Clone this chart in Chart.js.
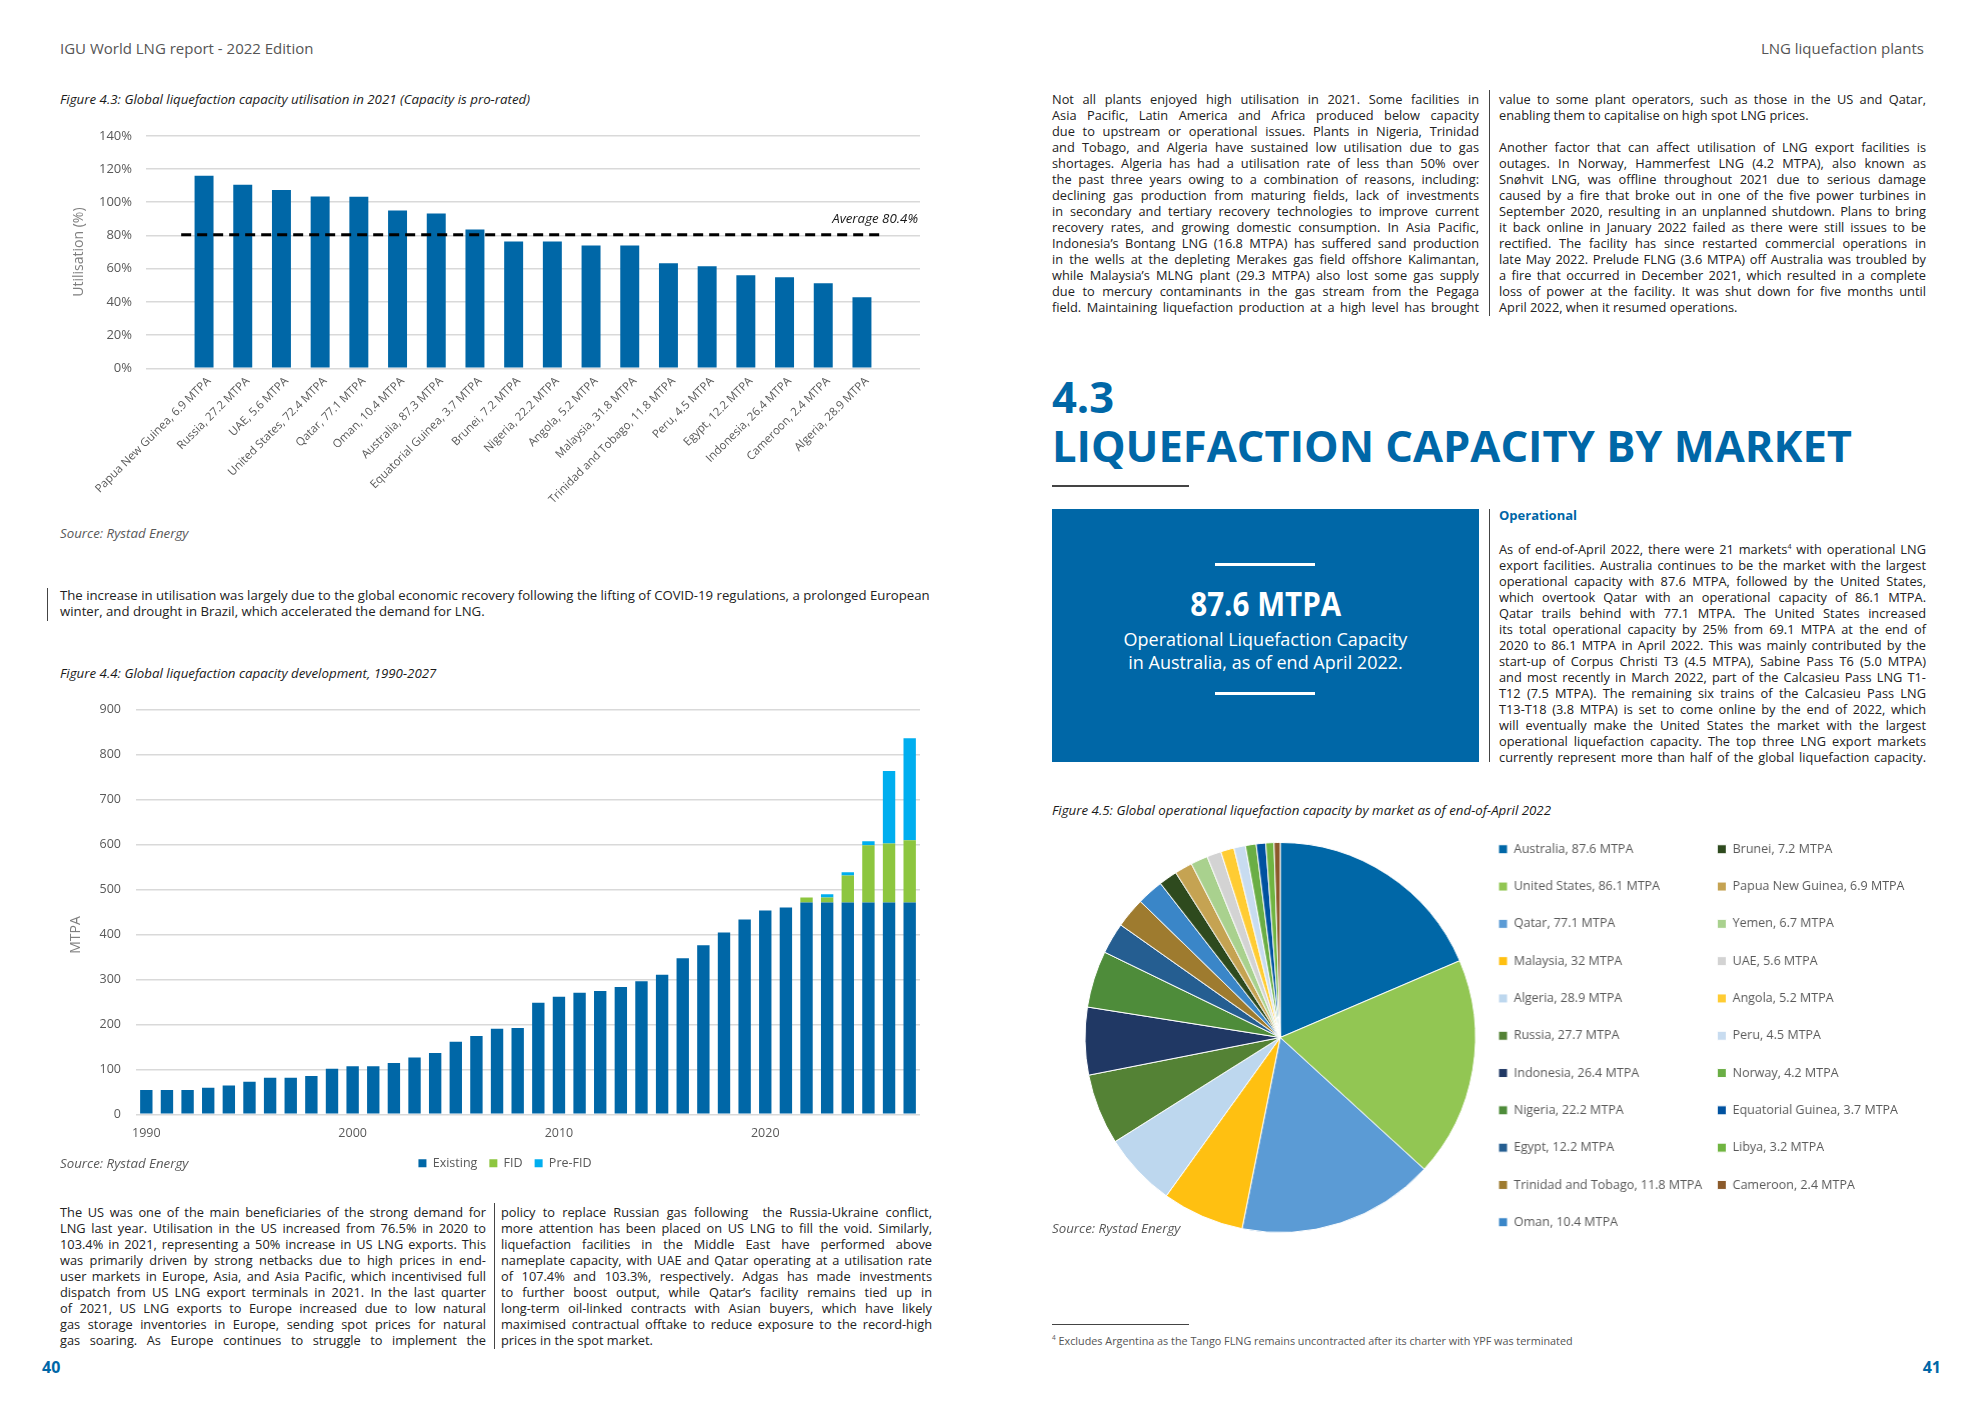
<!DOCTYPE html>
<html><head><meta charset="utf-8">
<script src="https://cdn.jsdelivr.net/npm/chart.js@4.4.1/dist/chart.umd.min.js"></script>
<style>
html,body{margin:0;padding:0;background:#fff;}
body{width:1984px;height:1403px;position:relative;overflow:hidden;font-family:'Open Sans',sans-serif;color:#222;}
.abs{position:absolute;}
.hdr{font-size:15px;color:#555;line-height:20px;white-space:nowrap;}
.cap{font-size:13.3px;font-style:italic;color:#1a1a1a;line-height:18px;white-space:nowrap;}
.src{font-size:13.3px;font-style:italic;color:#595959;line-height:18px;white-space:nowrap;}
.col{position:absolute;font-size:12.8px;line-height:16px;color:#222;}
.col div{text-align:justify;text-align-last:justify;white-space:nowrap;height:16px;}
.col div.l{text-align-last:left;}
.vline{position:absolute;width:1px;background:#444;}
.hline{position:absolute;height:1px;background:#444;}
.pg{position:absolute;font-size:16px;font-weight:700;color:#0067A7;line-height:20px;}
</style></head>
<body>
<div class="abs hdr" style="left:60px;top:38px;">IGU World LNG report - 2022 Edition</div>
<div class="abs hdr" style="right:60px;top:38px;">LNG liquefaction plants</div>

<div class="abs cap" style="left:60px;top:90px;">Figure 4.3: Global liquefaction capacity utilisation in 2021 (Capacity is pro-rated)</div>
<div class="abs" style="left:60px;top:114px;width:870px;height:410px;"><canvas id="c1"></canvas></div>
<div class="abs cap" id="avgLabel" style="right:1066px;top:209px;"></div>
<div class="abs src" style="left:60px;top:524px;">Source: Rystad Energy</div>

<div class="vline" style="left:47px;top:588px;height:33px;"></div>
<div class="col" style="left:60px;top:587px;width:880px;font-size:13.2px;">
<div class="l">The increase in utilisation was largely due to the global economic recovery following the lifting of COVID-19 regulations, a prolonged European</div>
<div class="l">winter, and drought in Brazil, which accelerated the demand for LNG.</div>
</div>

<div class="abs cap" style="left:60px;top:664px;">Figure 4.4: Global liquefaction capacity development, 1990-2027</div>
<div class="abs" style="left:60px;top:686.5px;width:890px;height:492.5px;"><canvas id="c2"></canvas></div>
<div class="abs" style="left:55px;top:925px;width:40px;height:20px;line-height:20px;text-align:center;font-size:14px;color:#7f7f7f;transform:rotate(-90deg);">MTPA</div>
<div class="abs src" style="left:60px;top:1154px;">Source: Rystad Energy</div>

<div class="col" style="left:60px;top:1204px;width:426px;">
<div>The US was one of the main beneficiaries of the strong demand for</div>
<div>LNG last year. Utilisation in the US increased from 76.5% in 2020 to</div>
<div>103.4% in 2021, representing a 50% increase in US LNG exports. This</div>
<div>was primarily driven by strong netbacks due to high prices in end-</div>
<div>user markets in Europe, Asia, and Asia Pacific, which incentivised full</div>
<div>dispatch from US LNG export terminals in 2021. In the last quarter</div>
<div>of 2021, US LNG exports to Europe increased due to low natural</div>
<div>gas storage inventories in Europe, sending spot prices for natural</div>
<div>gas soaring. As Europe continues to struggle to implement the</div>
</div>
<div class="vline" style="left:494px;top:1203px;height:146px;"></div>
<div class="col" style="left:501px;top:1204px;width:431px;">
<div>policy to replace Russian gas following&nbsp; the Russia-Ukraine conflict,</div>
<div>more attention has been placed on US LNG to fill the void. Similarly,</div>
<div>liquefaction facilities in the Middle East have performed above</div>
<div>nameplate capacity, with UAE and Qatar operating at a utilisation rate</div>
<div>of 107.4% and 103.3%, respectively. Adgas has made investments</div>
<div>to further boost output, while Qatar’s facility remains tied up in</div>
<div>long-term oil-linked contracts with Asian buyers, which have likely</div>
<div>maximised contractual offtake to reduce exposure to the record-high</div>
<div class="l">prices in the spot market.</div>
</div>
<div class="pg" style="left:42px;top:1357px;">40</div>

<!-- right page -->
<div class="col" style="left:1052px;top:90.5px;width:427px;">
<div>Not all plants enjoyed high utilisation in 2021. Some facilities in</div>
<div>Asia Pacific, Latin America and Africa produced below capacity</div>
<div>due to upstream or operational issues. Plants in Nigeria, Trinidad</div>
<div>and Tobago, and Algeria have sustained low utilisation due to gas</div>
<div>shortages. Algeria has had a utilisation rate of less than 50% over</div>
<div>the past three years owing to a combination of reasons, including:</div>
<div>declining gas production from maturing fields, lack of investments</div>
<div>in secondary and tertiary recovery technologies to improve current</div>
<div>recovery rates, and growing domestic consumption. In Asia Pacific,</div>
<div>Indonesia’s Bontang LNG (16.8 MTPA) has suffered sand production</div>
<div>in the wells at the depleting Merakes gas field offshore Kalimantan,</div>
<div>while Malaysia’s MLNG plant (29.3 MTPA) also lost some gas supply</div>
<div>due to mercury contaminants in the gas stream from the Pegaga</div>
<div>field. Maintaining liquefaction production at a high level has brought</div>
</div>
<div class="vline" style="left:1489px;top:90px;height:226px;"></div>
<div class="col" style="left:1499px;top:90.5px;width:427px;">
<div>value to some plant operators, such as those in the US and Qatar,</div>
<div class="l">enabling them to capitalise on high spot LNG prices.</div>
<div class="l"></div>
<div>Another factor that can affect utilisation of LNG export facilities is</div>
<div>outages. In Norway, Hammerfest LNG (4.2 MTPA), also known as</div>
<div>Snøhvit LNG, was offline throughout 2021 due to serious damage</div>
<div>caused by a fire that broke out in one of the five power turbines in</div>
<div>September 2020, resulting in an unplanned shutdown. Plans to bring</div>
<div>it back online in January 2022 failed as there were still issues to be</div>
<div>rectified. The facility has since restarted commercial operations in</div>
<div>late May 2022. Prelude FLNG (3.6 MTPA) off Australia was troubled by</div>
<div>a fire that occurred in December 2021, which resulted in a complete</div>
<div>loss of power at the facility. It was shut down for five months until</div>
<div class="l">April 2022, when it resumed operations.</div>
</div>

<div class="abs" style="left:1052px;top:372px;font-size:43.5px;line-height:50px;font-weight:700;color:#0067A7;white-space:nowrap;">4.3</div>
<div class="abs" style="left:1052px;top:421px;font-size:43.5px;line-height:50px;font-weight:700;color:#0067A7;white-space:nowrap;">LIQUEFACTION CAPACITY BY MARKET</div>
<div class="hline" style="left:1052px;top:485px;width:137px;height:1.5px;"></div>

<div class="abs" style="left:1052px;top:509px;width:427px;height:253px;background:#0067A7;"></div>
<div class="abs" style="left:1215px;top:563px;width:100px;height:3px;background:#fff;"></div>
<div class="abs" style="left:1052px;top:581px;width:427px;text-align:center;"><span style="display:inline-block;color:#fff;font-weight:700;font-size:34px;line-height:44px;transform:scaleX(0.87);white-space:nowrap;">87.6 MTPA</span></div>
<div class="abs" style="left:1052px;top:628px;width:427px;text-align:center;color:#fff;font-size:18px;line-height:23px;white-space:nowrap;">Operational Liquefaction Capacity<br>in Australia, as of end April 2022.</div>
<div class="abs" style="left:1215px;top:692px;width:100px;height:3px;background:#fff;"></div>
<div class="vline" style="left:1489px;top:509px;height:253px;"></div>
<div class="abs" style="left:1499px;top:507px;font-size:13px;line-height:16px;font-weight:700;color:#0067A7;">Operational</div>
<div class="col" style="left:1499px;top:541px;width:427px;">
<div>As of end-of-April 2022, there were 21 markets<sup style="font-size:7px;line-height:0;">4</sup> with operational LNG</div>
<div>export facilities. Australia continues to be the market with the largest</div>
<div>operational capacity with 87.6 MTPA, followed by the United States,</div>
<div>which overtook Qatar with an operational capacity of 86.1 MTPA.</div>
<div>Qatar trails behind with 77.1 MTPA. The United States increased</div>
<div>its total operational capacity by 25% from 69.1 MTPA at the end of</div>
<div>2020 to 86.1 MTPA in April 2022. This was mainly contributed by the</div>
<div>start-up of Corpus Christi T3 (4.5 MTPA), Sabine Pass T6 (5.0 MTPA)</div>
<div>and most recently in March 2022, part of the Calcasieu Pass LNG T1-</div>
<div>T12 (7.5 MTPA). The remaining six trains of the Calcasieu Pass LNG</div>
<div>T13-T18 (3.8 MTPA) is set to come online by the end of 2022, which</div>
<div>will eventually make the United States the market with the largest</div>
<div>operational liquefaction capacity. The top three LNG export markets</div>
<div>currently represent more than half of the global liquefaction capacity.</div>
</div>

<div class="abs cap" style="left:1052px;top:801px;">Figure 4.5: Global operational liquefaction capacity by market as of end-of-April 2022</div>
<div class="abs" id="pieBox" style="left:1077px;top:817.5px;width:830px;height:439px;"><canvas id="c3"></canvas></div>
<div class="abs src" style="left:1052px;top:1219px;">Source: Rystad Energy</div>

<div class="hline" style="left:1052px;top:1324px;width:137px;"></div>
<div class="abs" style="left:1052px;top:1334px;font-size:10.8px;line-height:14px;color:#555;white-space:nowrap;"><sup style="font-size:6.5px;line-height:0;">4</sup> Excludes Argentina as the Tango FLNG remains uncontracted after its charter with YPF was terminated</div>
<div class="pg" style="right:43px;top:1357px;">41</div>

<script>
// ---------- Figure 4.3 data ----------
const utilCategories = ['Papua New Guinea, 6.9 MTPA','Russia, 27.2 MTPA','UAE, 5.6 MTPA','United States, 72.4 MTPA','Qatar, 77.1 MTPA','Oman, 10.4 MTPA','Australia, 87.3 MTPA','Equatorial Guinea, 3.7 MTPA','Brunei, 7.2 MTPA','Nigeria, 22.2 MTPA','Angola, 5.2 MTPA','Malaysia, 31.8 MTPA','Trinidad and Tobago, 11.8 MTPA','Peru, 4.5 MTPA','Egypt, 12.2 MTPA','Indonesia, 26.4 MTPA','Cameroon, 2.4 MTPA','Algeria, 28.9 MTPA'];
const utilValues = [116, 110.6, 107.4, 103.4, 103.3, 95, 93.2, 83.6, 76.4, 76.4, 74, 74, 63.2, 61.4, 56, 54.8, 51.2, 42.8];
const utilAverage = 80.4;

// ---------- Figure 4.4 data ----------
const years = [1990,1991,1992,1993,1994,1995,1996,1997,1998,1999,2000,2001,2002,2003,2004,2005,2006,2007,2008,2009,2010,2011,2012,2013,2014,2015,2016,2017,2018,2019,2020,2021,2022,2023,2024,2025,2026,2027];
const existing = [54,54,54,59,64,72,81,81,85,101,107,107,114,126,136,161,174,190,192,248,261,270,274,283,296,310,347,376,404,433,453,460,471,471,471,471,471,471];
const fid = [0,0,0,0,0,0,0,0,0,0,0,0,0,0,0,0,0,0,0,0,0,0,0,0,0,0,0,0,0,0,0,0,11,11,60,127,131,138];
const preFid = [0,0,0,0,0,0,0,0,0,0,0,0,0,0,0,0,0,0,0,0,0,0,0,0,0,0,0,0,0,0,0,0,0,7,7,9,161,227];

// ---------- Figure 4.5 data ----------
const markets = ['Australia','United States','Qatar','Malaysia','Algeria','Russia','Indonesia','Nigeria','Egypt','Trinidad and Tobago','Oman','Brunei','Papua New Guinea','Yemen','UAE','Angola','Peru','Norway','Equatorial Guinea','Libya','Cameroon'];
const capacity = [87.6,86.1,77.1,32,28.9,27.7,26.4,22.2,12.2,11.8,10.4,7.2,6.9,6.7,5.6,5.2,4.5,4.2,3.7,3.2,2.4];
const pieColors = ['#0067A7','#92C653','#5B9BD5','#FFC011','#BDD7EE','#548235','#203864','#4E8C3A','#255E91','#9E7B2F','#3A86C8','#2E4A1E','#C5A352','#A9D18E','#D3D3D3','#FFCC33','#C8DCF0','#6AAE45','#0052A0','#70B541','#8B5A2B'];

Chart.defaults.font.family = "'Open Sans', sans-serif";
Chart.defaults.color = '#595959';
Chart.defaults.animation = false;

document.getElementById('avgLabel').textContent = 'Average ' + utilAverage + '%';

new Chart(document.getElementById('c1'), {
  type: 'bar',
  data: {
    labels: [''].concat(utilCategories, ['']),
    datasets: [
      { type: 'line', data: [{x: 0, y: utilAverage}, {x: 1, y: utilAverage}], xAxisID: 'x2',
        borderColor: '#000', borderWidth: 3, borderDash: [10, 6], pointRadius: 0, order: 0 },
      { type: 'bar', data: [null].concat(utilValues, [null]), backgroundColor: '#0067A7',
        borderWidth: 0, grouped: false, categoryPercentage: 1, barPercentage: 0.49, order: 1 }
    ]
  },
  options: {
    responsive: true, maintainAspectRatio: false, animation: false,
    layout: { padding: { top: 0, right: 10, left: 0, bottom: 0 } },
    plugins: { legend: { display: false }, tooltip: { enabled: false } },
    scales: {
      x: { type: 'category', grid: { display: false, drawTicks: false }, border: { display: false },
        ticks: { autoSkip: false, minRotation: 45, maxRotation: 45, padding: 6, labelOffset: 5, color: '#595959', font: { size: 11.5 } },
        afterFit(s) { s.height = 155.7; } },
      x2: { type: 'linear', display: false, min: 0, max: 1 },
      y: { min: 0, max: 140,
        ticks: { stepSize: 20, callback: v => v + '%', padding: 14, color: '#595959', font: { size: 13 } },
        grid: { color: '#d9d9d9', lineWidth: 1.5, drawTicks: false }, border: { display: false },
        title: { display: true, text: 'Utilisation (%)', color: '#7f7f7f', font: { size: 14 }, padding: { top: 10.6, bottom: 0 } },
        afterFit(s) { s.width = 86; } }
    }
  }
});

new Chart(document.getElementById('c2'), {
  type: 'bar',
  data: {
    labels: years,
    datasets: [
      { label: 'Existing', data: existing, backgroundColor: '#0067A7' },
      { label: 'FID', data: fid, backgroundColor: '#8DC63F' },
      { label: 'Pre-FID', data: preFid, backgroundColor: '#00AEEF' }
    ]
  },
  options: {
    responsive: true, maintainAspectRatio: false, animation: false,
    layout: { padding: 0 },
    datasets: { bar: { categoryPercentage: 1, barPercentage: 0.6, borderWidth: 0 } },
    plugins: {
      legend: { position: 'bottom', labels: { boxWidth: 8, boxHeight: 8, padding: 12, color: '#595959', font: { size: 12.5 } } },
      tooltip: { enabled: false }
    },
    scales: {
      x: { stacked: true, grid: { display: false, drawTicks: false }, border: { display: false },
        ticks: { autoSkip: false, maxRotation: 0, minRotation: 0, padding: 12, color: '#595959', font: { size: 12.5 },
          callback: (v, i) => (years[i] % 10 === 0 ? String(years[i]) : '') },
        afterFit(s) { s.height = 30.75; } },
      y: { stacked: true, min: 0, max: 900,
        ticks: { stepSize: 100, padding: 15, color: '#595959', font: { size: 12.5 } },
        grid: { color: '#d9d9d9', lineWidth: 1.5, drawTicks: false }, border: { display: false },
        afterFit(s) { s.width = 76; } },
      yR: { type: 'linear', position: 'right', display: true, grid: { display: false, drawTicks: false },
        ticks: { display: false }, border: { display: false }, afterFit(s) { s.width = 30; } }
    }
  }
});

const pieChart = new Chart(document.getElementById('c3'), {
  type: 'pie',
  data: {
    labels: markets.map((m, i) => [m + ', ' + capacity[i] + ' MTPA']),
    datasets: [{ data: capacity, backgroundColor: pieColors, borderColor: '#fff', borderWidth: 1, radius: 195 }]
  },
  options: {
    responsive: true, maintainAspectRatio: false, animation: false,
    layout: { padding: 0 },
    plugins: {
      legend: { position: 'right', align: 'start', maxWidth: 700,
        title: { display: true, text: '', font: { size: 1, lineHeight: 1 }, padding: { top: 9, bottom: 0 } },
        labels: { boxWidth: 9, boxHeight: 9, padding: 15, color: '#595959', font: { size: 12.5, lineHeight: 1.784 } } },
      tooltip: { enabled: false }
    }
  }
});
const lw = pieChart.legend.width;
document.getElementById('pieBox').style.width = (406 + lw) + 'px';
pieChart.resize();
</script>
</body></html>
